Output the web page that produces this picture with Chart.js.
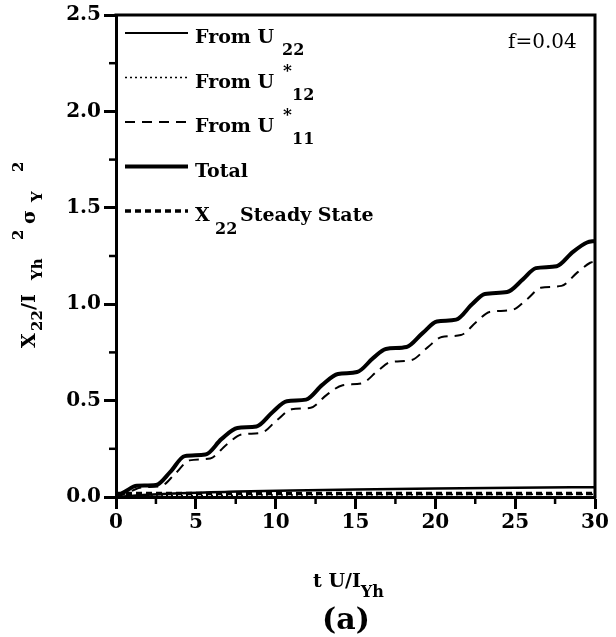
<!DOCTYPE html>
<html>
<head>
<meta charset="utf-8">
<script src="https://cdn.jsdelivr.net/npm/chart.js@4"></script>
<style>
  html, body { margin: 0; padding: 0; background: #fff; }
  canvas { display: block; }
</style>
</head>
<body>
<canvas id="grafico" width="616" height="637"></canvas>
<script>
// valores (t U/I_Yh contra X22/I_Yh^2 sigma_Y^2)
const tTotal = [0, 0.6, 1.3, 2.5, 3.4, 4.3, 5.6, 6.6, 7.6, 8.8, 9.8, 10.7, 11.9, 12.9, 13.9, 15.1, 16.1, 16.9, 18.2, 19.2, 20.1, 21.3, 22.3, 23.1, 24.5, 25.5, 26.3, 27.6, 28.6, 29.5, 30];
const vTotal = [0, 0.03, 0.058, 0.062, 0.13, 0.212, 0.22, 0.30, 0.358, 0.366, 0.44, 0.497, 0.505, 0.58, 0.638, 0.648, 0.72, 0.768, 0.778, 0.85, 0.91, 0.92, 1.0, 1.053, 1.063, 1.13, 1.187, 1.197, 1.27, 1.32, 1.328];

const tU11 = [0, 0.8, 1.6, 2.8, 3.7, 4.6, 5.9, 6.9, 7.9, 9.1, 10.1, 11.0, 12.2, 13.2, 14.2, 15.4, 16.4, 17.2, 18.5, 19.5, 20.4, 21.6, 22.6, 23.4, 24.8, 25.8, 26.6, 27.9, 28.9, 29.7, 30];
const vU11 = [0, 0.025, 0.05, 0.056, 0.12, 0.19, 0.20, 0.27, 0.325, 0.333, 0.40, 0.455, 0.463, 0.53, 0.58, 0.59, 0.655, 0.70, 0.71, 0.775, 0.83, 0.84, 0.91, 0.96, 0.97, 1.03, 1.085, 1.095, 1.165, 1.215, 1.222];

const tU22 = [0, 2, 4, 7.6, 11, 15, 20, 25, 30];
const vU22 = [0, 0.012, 0.02, 0.028, 0.034, 0.039, 0.044, 0.048, 0.051];

const tU12 = [0, 3, 6, 9, 12, 15, 18, 21, 24, 27, 30];
const vU12 = [0, 0.006, 0.008, 0.010, 0.011, 0.012, 0.012, 0.013, 0.013, 0.014, 0.014];

const tSteady = [0, 30];
const vSteady = [0.018, 0.018];

const xTicks = [0, 5, 10, 15, 20, 25, 30];
const yTicks = [0.0, 0.5, 1.0, 1.5, 2.0, 2.5];
const xMenores = [2.5, 7.5, 12.5, 17.5, 22.5, 27.5];
const yMenores = [0.25, 0.75, 1.25, 1.75, 2.25];

const SERIF = '"DejaVu Serif", serif';

function puntos(ts, vs) {
    return ts.map((t, i) => ({ x: t, y: vs[i] }));
}

// dibuja texto con subíndices / superíndices: segs = [[texto, corrimiento, tamaño, x fija], ...]
function textoCompuesto(ctx, x, y, segs, peso) {
    let cx = x;
    segs.forEach(s => {
        if (s[3] !== undefined) cx = x + s[3];
        ctx.font = (peso || 'bold') + ' ' + s[2] + 'px ' + SERIF;
        ctx.fillText(s[0], cx, y + s[1]);
        cx += ctx.measureText(s[0]).width;
    });
}

const leyenda = [
    { dash: [], ancho: 2, segs: [['From U ', 0, 19], ['22', 12, 16, 87]] },
    { dash: [2, 3], ancho: 1.5, segs: [['From U ', 0, 19], ['*', -12, 17, 88], ['12', 12, 16, 97]] },
    { dash: [10, 7], ancho: 2, segs: [['From U ', 0, 19], ['*', -12, 17, 88], ['11', 12, 16, 97]] },
    { dash: [], ancho: 4, segs: [['Total', 0, 19]] },
    { dash: [6, 4], ancho: 3.5, segs: [['X', 0, 19], ['22', 13, 16, 20], ['Steady State', 0, 19, 45]] }
];

const decoracion = {
    id: 'decoracion',
    afterDraw(chart) {
        const ctx = chart.ctx;
        const a = chart.chartArea;
        const sx = chart.scales.x, sy = chart.scales.y;
        ctx.save();
        ctx.strokeStyle = '#000';
        ctx.fillStyle = '#000';
        ctx.lineCap = 'butt';

        // marco superior y derecho
        ctx.lineWidth = 3;
        ctx.beginPath();
        ctx.moveTo(a.left - 1.5, a.top);
        ctx.lineTo(a.right, a.top);
        ctx.lineTo(a.right, a.bottom + 1.5);
        ctx.stroke();

        // ticks menores
        ctx.lineWidth = 2.5;
        xMenores.forEach(v => {
            const px = sx.getPixelForValue(v);
            ctx.beginPath(); ctx.moveTo(px, a.bottom); ctx.lineTo(px, a.bottom + 7); ctx.stroke();
        });
        yMenores.forEach(v => {
            const py = sy.getPixelForValue(v);
            ctx.beginPath(); ctx.moveTo(a.left - 7, py); ctx.lineTo(a.left, py); ctx.stroke();
        });

        // leyenda
        ctx.textBaseline = 'alphabetic';
        ctx.textAlign = 'left';
        leyenda.forEach((item, i) => {
            const yl = 33 + i * 44.5;
            ctx.lineWidth = item.ancho;
            ctx.setLineDash(item.dash);
            ctx.beginPath(); ctx.moveTo(125, yl); ctx.lineTo(188, yl); ctx.stroke();
            ctx.setLineDash([]);
            textoCompuesto(ctx, 195, yl + 10, item.segs);
        });

        // f=0.04
        ctx.font = '20px ' + SERIF;
        ctx.fillText('f=0.04', 508, 48);

        // título eje x
        textoCompuesto(ctx, 313, 587, [['t U/I', 0, 19], ['Yh', 10, 16]]);

        // (a)
        ctx.font = 'bold 30px ' + SERIF;
        ctx.textAlign = 'center';
        ctx.fillText('(a)', 346, 629);
        ctx.textAlign = 'left';

        // título eje y (rotado)
        ctx.translate(35, 348);
        ctx.rotate(-Math.PI / 2);
        const segsY = [['X', 0, 19, 0], ['22', 7, 15, 17], ['/I', 0, 19, 38], ['Yh', 7, 15, 68],
                       ['2', -12, 15, 108], ['σ', 0, 19, 124], ['Y', 7, 15, 146], ['2', -12, 15, 176]];
        textoCompuesto(ctx, 0, 0, segsY);
        ctx.restore();
    }
};

const linea = (label, ts, vs, ancho, dash) => ({
    label: label,
    data: puntos(ts, vs),
    borderColor: '#000',
    backgroundColor: 'transparent',
    borderWidth: ancho,
    borderDash: dash,
    pointRadius: 0,
    fill: false,
    cubicInterpolationMode: 'monotone'
});

const ejeComun = (ticksArr, fmt) => ({
    type: 'linear',
    ticks: {
        color: '#000',
        font: { family: SERIF, size: 20, weight: 'bold' },
        autoSkip: false,
        callback: fmt
    },
    afterBuildTicks: s => { s.ticks = ticksArr.map(v => ({ value: v })); },
    grid: { drawOnChartArea: false, drawTicks: true, tickLength: 12, tickWidth: 3, tickColor: '#000' },
    border: { display: true, color: '#000', width: 3 }
});

const escalaX = ejeComun(xTicks, v => String(v));
escalaX.min = 0; escalaX.max = 30;
escalaX.ticks.padding = 2;
escalaX.afterFit = s => { s.height = 140; };

const escalaY = ejeComun(yTicks, v => v.toFixed(1));
escalaY.min = 0; escalaY.max = 2.5;
escalaY.ticks.padding = 3;
escalaY.afterFit = s => { s.width = 116; };

new Chart(document.getElementById('grafico').getContext('2d'), {
    type: 'line',
    data: {
        datasets: [
            linea('From U22', tU22, vU22, 2.5, []),
            linea('From U*12', tU12, vU12, 1.5, [2, 3]),
            linea('From U*11', tU11, vU11, 2, [10, 7]),
            linea('Total', tTotal, vTotal, 4, []),
            linea('X22 Steady State', tSteady, vSteady, 3.5, [6, 4])
        ]
    },
    options: {
        responsive: false,
        devicePixelRatio: 1,
        animation: false,
        layout: { padding: { top: 15, right: 21, left: 0, bottom: 0 } },
        plugins: { legend: { display: false }, tooltip: { enabled: false } },
        scales: { x: escalaX, y: escalaY }
    },
    plugins: [decoracion]
});
</script>
</body>
</html>
